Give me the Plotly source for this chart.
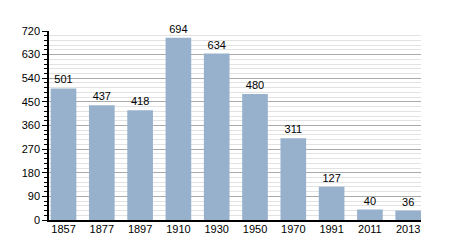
import plotly.graph_objects as go

years = ["1857", "1877", "1897", "1910", "1930", "1950", "1970", "1991", "2011", "2013"]
population = [501, 437, 418, 694, 634, 480, 311, 127, 40, 36]
y_ticks = [0, 90, 180, 270, 360, 450, 540, 630, 720]

fig = go.Figure(go.Bar(
    x=years, y=population,
    marker=dict(color="#97b1cd", line=dict(width=0)),
    width=0.67,
    text=[str(v) for v in population],
    textposition="outside",
    textfont=dict(color="black", size=11, family="Liberation Sans"),
    cliponaxis=False,
))

fig.update_layout(
    width=450, height=250,
    margin=dict(l=49, r=29, t=31, b=30),
    paper_bgcolor="white", plot_bgcolor="white",
    font=dict(family="Liberation Sans", size=11, color="black"),
    showlegend=False,
)
fig.update_xaxes(
    type="category", range=[-0.379, 9.334],
    showline=True, linecolor="black", linewidth=1.5,
    ticks="", showgrid=False, tickfont=dict(size=11),
    ticklabelstandoff=-2,
)
fig.update_yaxes(
    range=[0, 720], tickvals=y_ticks, showline=True, linecolor="black", linewidth=1.5,
    ticks="outside", ticklen=5, tickcolor="black", tickwidth=1,
    showgrid=True, gridcolor="#aaaaaa", gridwidth=1, zeroline=False,
    minor=dict(dtick=18, ticks="outside", ticklen=3, tickcolor="black",
               showgrid=True, gridcolor="#e2e2e2", gridwidth=1),
    tickfont=dict(size=11),
)

fig.write_html("out.html")
